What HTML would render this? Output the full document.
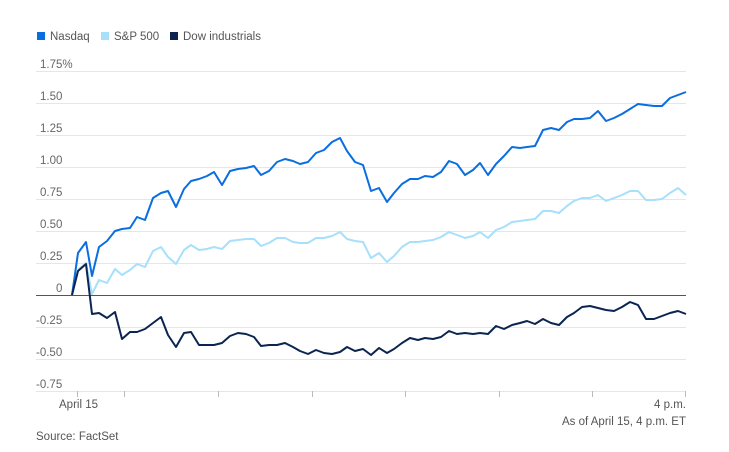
<!DOCTYPE html>
<html><head><meta charset="utf-8"><style>
body{margin:0;background:#fff;width:729px;height:452px;overflow:hidden}
svg{display:block;font-family:"Liberation Sans",sans-serif}
</style></head><body>
<svg width="729" height="452" viewBox="0 0 729 452">
<g font-size="11.5" fill="#555">
<rect x="37" y="32" width="8" height="8" fill="#0a6ee0"/><text x="50" y="40">Nasdaq</text>
<rect x="101" y="32" width="8" height="8" fill="#a6e0fb"/><text x="114" y="40">S&amp;P 500</text>
<rect x="170" y="32" width="8" height="8" fill="#0b2550"/><text x="183" y="40">Dow industrials</text>
</g>
<g stroke="#e6e6e6" stroke-width="1">
<line x1="36" x2="686" y1="71.5" y2="71.5"/><line x1="36" x2="686" y1="103.5" y2="103.5"/>
<line x1="36" x2="686" y1="135.5" y2="135.5"/><line x1="36" x2="686" y1="167.5" y2="167.5"/>
<line x1="36" x2="686" y1="199.5" y2="199.5"/><line x1="36" x2="686" y1="231.5" y2="231.5"/>
<line x1="36" x2="686" y1="263.5" y2="263.5"/><line x1="36" x2="686" y1="327.5" y2="327.5"/>
<line x1="36" x2="686" y1="359.5" y2="359.5"/><line x1="36" x2="686" y1="391.5" y2="391.5"/>
</g>
<g font-size="11.5" fill="#666">
<text x="40" y="68">1.75%</text><text x="40" y="100">1.50</text><text x="40" y="132">1.25</text>
<text x="40" y="164">1.00</text><text x="40" y="196">0.75</text><text x="40" y="228">0.50</text>
<text x="40" y="260">0.25</text><text x="56" y="292">0</text>
<text x="36" y="324">-0.25</text><text x="36" y="356">-0.50</text><text x="36" y="388">-0.75</text>
</g>
<g stroke="#bbb" stroke-width="1">
<line x1="77.5" x2="77.5" y1="391" y2="397"/><line x1="124.5" x2="124.5" y1="391" y2="397"/>
<line x1="218.5" x2="218.5" y1="391" y2="397"/><line x1="312.5" x2="312.5" y1="391" y2="397"/>
<line x1="405.5" x2="405.5" y1="391" y2="397"/><line x1="499.5" x2="499.5" y1="391" y2="397"/>
<line x1="592.5" x2="592.5" y1="391" y2="397"/><line x1="685.5" x2="685.5" y1="391" y2="397"/>
</g>
<g font-size="11.5" fill="#555">
<text x="59" y="408">April 15</text>
<text x="686" y="408" text-anchor="end">4 p.m.</text>
<text x="686" y="425" text-anchor="end">As of April 15, 4 p.m. ET</text>
<text x="36" y="440">Source: FactSet</text>
</g>
<g fill="none" stroke-width="2" stroke-linejoin="round">
<polyline stroke="#a6e0fb" points="72,295 78,270 86,263 92,294 99,280 107,283 115,269 122,275 130,270 137,264 145,267 153,251 161,247 168,257 176,264 184,250 191,245 199,250 207,249 214,247 222,249 230,241 238,240 246,239 254,239 261,246 269,243 277,238 285,238 293,242 300,243 308,243 316,238 324,238 332,236 340,232 347,239 355,241 363,242 371,258 379,253 387,262 394,256 402,247 410,242 418,242 425,241 433,240 441,237 449,232 457,235 465,238 473,236 480,232 488,238 496,230 504,227 512,222 520,221 527,220 535,219 543,211 551,211 559,213 567,206 574,201 582,198 590,198 598,195 606,201 614,198 622,195 630,191 638,191 646,200 654,200 662,199 670,193 678,188 686,195"/>
<polyline stroke="#0a6ee0" points="72,295 78,253 86,242 92,276 99,247 107,241 115,231 122,229 130,228 137,217 145,220 153,198 161,193 168,191 176,207 184,189 191,181 199,179 207,176 214,172 222,185 230,171 238,169 246,168 254,166 261,175 269,171 277,162 285,159 293,161 300,164 308,162 316,153 324,150 332,142 340,138 347,151 355,162 363,165 371,191 379,188 387,202 394,193 402,184 410,179 418,179 425,176 433,177 441,172 449,161 457,164 465,175 473,170 480,163 488,175 496,164 504,156 512,147 520,148 527,147 535,146 543,130 551,128 559,130 567,122 574,119 582,119 590,118 598,111 606,121 614,118 622,114 630,109 638,104 646,105 654,106 662,106 670,98 678,95 686,92"/>
<line x1="36" x2="686" y1="295.5" y2="295.5" stroke="#555" stroke-width="1"/>
<polyline stroke="#0b2550" points="72,295 78,271 86,264 92,314 99,313 107,318 115,312 122,339 130,332 137,332 145,329 153,323 161,317 168,335 176,347 184,333 191,332 199,345 207,345 214,345 222,343 230,336 238,333 246,334 254,337 261,346 269,345 277,345 285,343 293,347 300,351 308,354 316,350 324,353 332,354 340,352 347,347 355,351 363,349 371,355 379,348 387,353 394,349 402,343 410,338 418,340 425,338 433,339 441,337 449,331 457,334 465,333 473,334 480,333 488,334 496,326 504,329 512,325 520,323 527,321 535,324 543,319 551,323 559,325 567,317 574,313 582,307 590,306 598,308 606,310 614,311 622,307 630,302 638,305 646,319 654,319 662,316 670,313 678,311 686,314"/>
</g>
</svg>
</body></html>
